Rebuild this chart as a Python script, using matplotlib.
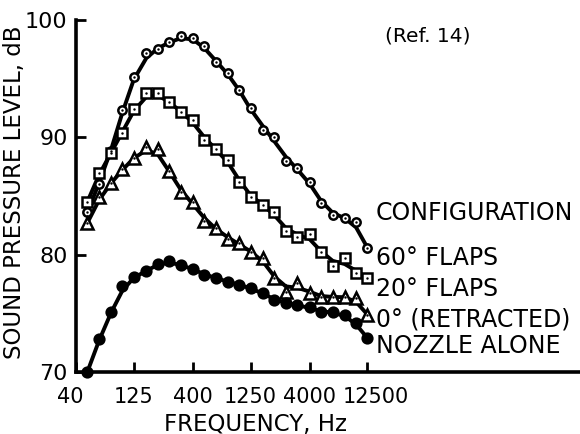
import numpy as np
import matplotlib
matplotlib.use("Agg")
import matplotlib.pyplot as plt
import matplotlib.transforms as mtransforms

# one-third octave band centres, Hz
bands = [50, 63, 80, 100, 125, 160, 200, 250, 315, 400, 500, 630, 800,
         1000, 1250, 1600, 2000, 2500, 3150, 4000, 5000, 6300, 8000, 10000, 12500]

# sound pressure level, dB
flaps60 = [83.6, 86.0, 88.8, 92.3, 95.1, 97.2, 97.5, 98.1, 98.6, 98.5, 97.8, 96.4, 95.5,
           94.0, 92.5, 90.6, 90.0, 88.0, 87.4, 86.2, 84.4, 83.4, 83.1, 82.8, 80.6]
flaps20 = [84.5, 87.0, 88.7, 90.4, 92.4, 93.8, 93.8, 93.0, 92.2, 91.5, 89.8, 89.0, 88.1,
           86.2, 84.9, 84.2, 83.6, 82.0, 81.5, 81.8, 80.2, 79.0, 79.7, 78.4, 78.0]
retracted = [82.7, 84.9, 86.1, 87.3, 88.2, 89.2, 89.0, 87.1, 85.3, 84.5, 82.9, 82.3, 81.3,
             81.0, 80.2, 79.7, 78.0, 76.8, 77.6, 76.7, 76.4, 76.4, 76.4, 76.3, 74.9]
nozzle = [70.0, 72.8, 75.1, 77.3, 78.1, 78.6, 79.2, 79.5, 79.1, 78.8, 78.3, 78.0, 77.7,
          77.4, 77.2, 76.7, 76.1, 75.9, 75.7, 75.5, 75.1, 75.1, 74.9, 74.2, 72.9]

xticks = [40, 125, 400, 1250, 4000, 12500]
xlabels = ["40", "125", "400", "1250", "4000", "12500"]
yticks = [70, 80, 90, 100]


def faired(y):
    # light smoothing so the line looks hand-faired like the original
    y = np.asarray(y, float)
    s = y.copy()
    s[1:-1] = 0.25 * y[:-2] + 0.5 * y[1:-1] + 0.25 * y[2:]
    return s


plt.rcParams['font.family'] = ['DejaVu Sans']
fig = plt.figure(figsize=(5.8, 4.34), dpi=100)
W, H = 580, 434
x0, y0 = 76, 372
ax = fig.add_axes([x0 / W, 1 - y0 / H, (W - x0) / W, (y0 - 20) / H])

series = [
    (flaps60, dict(marker='o', ms=6, mfc='white')),
    (flaps20, dict(marker='s', ms=7.5, mfc='white')),
    (retracted, dict(marker='^', ms=8.5, mfc='white')),
    (nozzle, dict(marker='o', ms=7, mfc='black')),
]
for vals, st in series:
    ax.plot(bands, faired(vals), color='black', lw=2.8, zorder=2, clip_on=False)
    ax.plot(bands, vals, ls='none', mec='black', mew=1.8, zorder=3, clip_on=False, **st)
    ax.plot(bands, vals, ls='none', marker='.', ms=1.5, color='black', zorder=4, clip_on=False)

ax.set_xscale('log')
dec = 116.8  # pixels per decade
ax.set_xlim(40, 40 * 10 ** ((W - x0) / dec))
ax.set_ylim(70, 100)
ax.set_xticks(xticks)
ax.set_xticklabels(xlabels)
ax.xaxis.set_minor_locator(matplotlib.ticker.NullLocator())
ax.set_yticks(yticks)
ax.tick_params(direction='in', length=7, width=2, labelsize=15, pad=11)
ax.tick_params(axis='y', pad=6, labelsize=16)
for s in ['top', 'right']:
    ax.spines[s].set_visible(False)
for s in ['left', 'bottom']:
    ax.spines[s].set_linewidth(2.6)

# nudge the end labels like the original lettering
labs = ax.get_xticklabels()
labs[0].set_transform(labs[0].get_transform() + mtransforms.ScaledTranslation(-6 / 100, 0, fig.dpi_scale_trans))
labs[-1].set_transform(labs[-1].get_transform() + mtransforms.ScaledTranslation(8 / 100, 0, fig.dpi_scale_trans))

fig.text(255 / W, 1 - 424 / H, "FREQUENCY, Hz", fontsize=16.5, ha='center', va='center')
fig.text(15 / W, 1 - 192 / H, "SOUND PRESSURE LEVEL, dB", fontsize=16.5,
         rotation=90, ha='center', va='center')

fig.text(428 / W, 1 - 36 / H, "(Ref. 14)", fontsize=14.5, ha='center', va='center')
legend_lines = [("CONFIGURATION", 213), ("60\u00b0 FLAPS", 258), ("20\u00b0 FLAPS", 289),
                ("0\u00b0 (RETRACTED)", 320), ("NOZZLE ALONE", 346)]
for txt, yy in legend_lines:
    fig.text(376 / W, 1 - yy / H, txt, fontsize=17, ha='left', va='center')

fig.savefig("out.png", dpi=100)
